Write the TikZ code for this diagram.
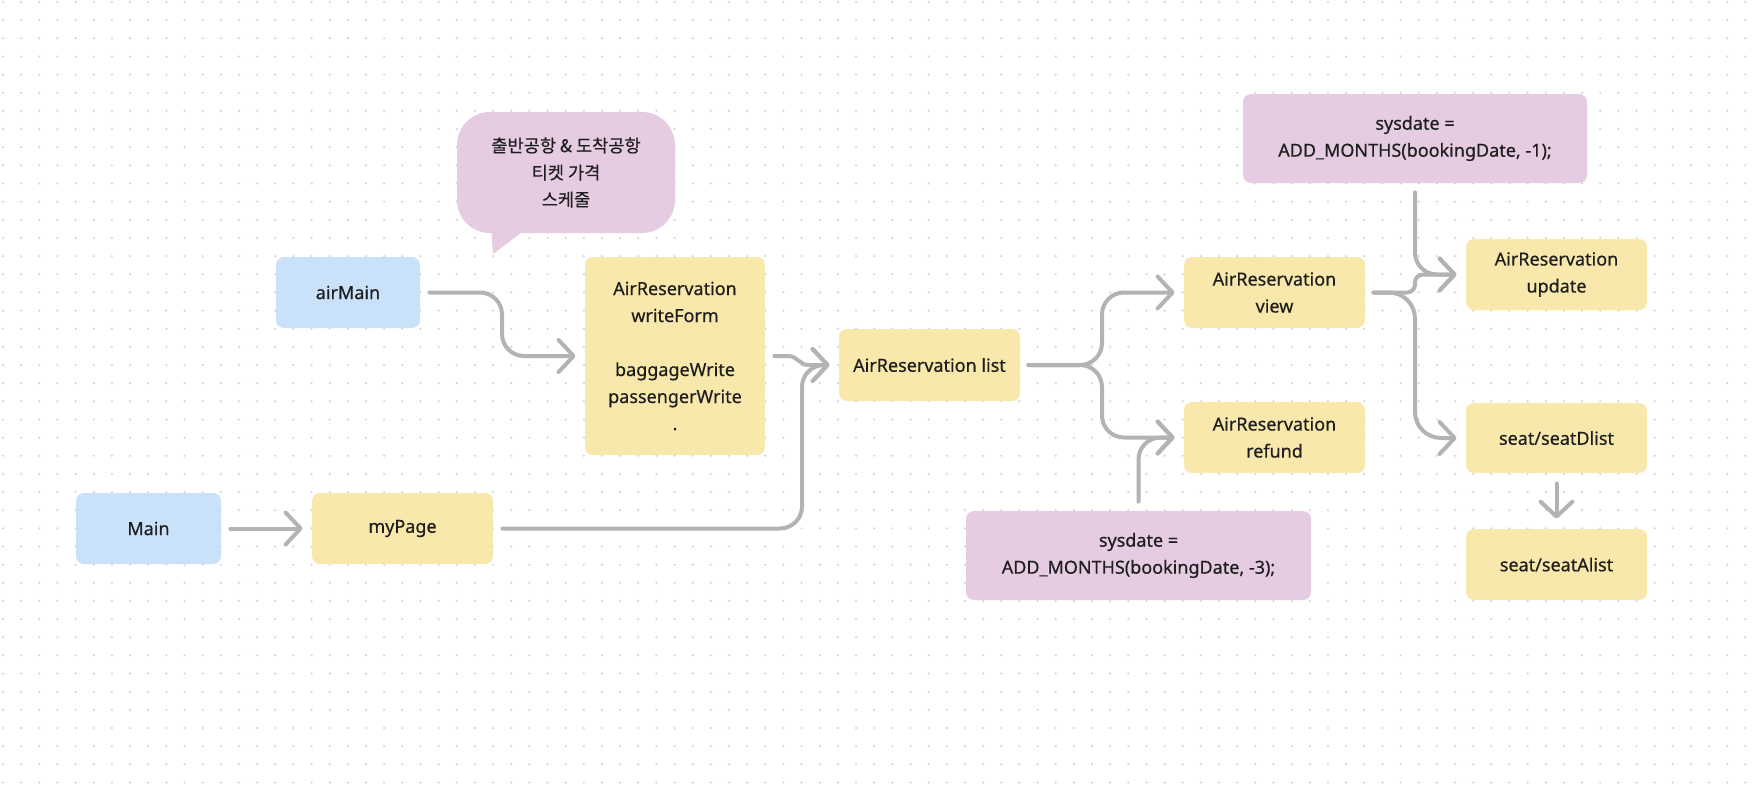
\documentclass[tikz,border=0pt]{standalone}
\usepackage{fontspec}
\setmainfont{Noto Sans}[RawFeature={embolden=0.5}]
\newfontfamily\kr{Noto Sans CJK KR}[RawFeature={embolden=0.4}]
\usetikzlibrary{arrows.meta,calc}
\definecolor{bluef}{HTML}{C9E2F9}
\definecolor{yelf}{HTML}{F9E8AB}
\definecolor{pinkf}{HTML}{E6CCE3}
\definecolor{arrc}{HTML}{B3B3B3}
\definecolor{dotc}{HTML}{D4D4D4}
\definecolor{txt}{HTML}{1E1E1E}
\begin{document}
\begin{tikzpicture}[x=0.5pt,y=-0.5pt,
  box/.style={rounded corners=4pt, inner sep=0pt, align=center, text=txt,
    font=\fontsize{9}{13.5}\selectfont},
  bluebox/.style={box, fill=bluef, minimum width=72pt, minimum height=35.5pt},
  yelbox/.style={box, fill=yelf, minimum width=90.5pt, minimum height=35.5pt},
  pinkbox/.style={box, fill=pinkf, minimum width=172pt, minimum height=44.5pt},
  arr/.style={draw=arrc, line width=2pt, line cap=round, line join=round,
    rounded corners=11pt, -{Straight Barb[length=7.5pt,width=16pt,round]}}
]
\useasboundingbox (0,0) rectangle (1752,787);
\fill[white] (0,0) rectangle (1752,787);
\foreach \j in {0,...,43}{
  \fill[dotc] \foreach \i in {0,...,96}{(3+18.15*\i,2+18.15*\j) circle[radius=0.6pt]};
}

% nodes
\node[bluebox] (airMain) at (348,292.5) {airMain};
\node[bluebox, minimum width=72.5pt] (Main) at (148.5,528.5) {Main};
\node[yelbox] (myPage) at (402.5,528.5) {myPage};
\node[yelbox, minimum width=90pt, minimum height=99pt] (writeForm) at (675,356)
  {AirReservation\\writeForm\\[13.5pt]baggageWrite\\passengerWrite\\.};
\node[yelbox, minimum height=36pt] (list) at (929.5,365) {AirReservation list};
\node[yelbox] (view) at (1274.5,292.5) {AirReservation\\view};
\node[yelbox] (refund) at (1274.5,437.5) {AirReservation\\refund};
\node[pinkbox, minimum width=172.5pt] (sys3) at (1138.5,555.5) {sysdate =\\ADD\_MONTHS(bookingDate, -3);};
\node[pinkbox] (sys1) at (1415,138.5) {sysdate =\\ADD\_MONTHS(bookingDate, -1);};
\node[yelbox] (update) at (1556.5,274.5) {AirReservation\\update};
\node[yelbox, minimum height=35pt] (seatD) at (1556.5,438) {seat/seatDlist};
\node[yelbox] (seatA) at (1556.5,564.5) {seat/seatAlist};

% speech bubble
\fill[pinkf] (491,226) -- (493,254) -- (530,226) -- cycle;
\node[box, fill=pinkf, rounded corners=16.5pt, minimum width=109pt, minimum height=60.5pt,
  font=\kr\fontsize{8.8}{13.5}\selectfont] (bubble) at (566,172.5)
  {출반공항 \& 도착공항\\티켓 가격\\스케줄};

% bend coordinates
\coordinate (k1) at (502,0);
\coordinate (k2) at (802,0);
\coordinate (k3) at (1102,0);

% connectors
\draw[arr] ([xshift=4.5pt]airMain.east) -- (airMain.east -| k1) -- (k1 |- writeForm.west) -- ([xshift=-4.5pt]writeForm.west);
\draw[arr] ([xshift=4.5pt]Main.east) -- ([xshift=-4.5pt]myPage.west);
\draw[arr] ([xshift=4.5pt]myPage.east) -- (myPage.east -| k2) -- (k2 |- list.west) -- ([xshift=-4.5pt]list.west);
\draw[arr, rounded corners=0pt] ([xshift=4.5pt]writeForm.east) -- ++(14,0) to[out=0,in=180] ++(20,9) -- ([xshift=-4.5pt]list.west);
\draw[arr] ([xshift=4pt]list.east) -- (list.east -| k3) -- (k3 |- view.west) -- ([xshift=-4.5pt]view.west);
\draw[arr] ([xshift=4pt]list.east) -- (list.east -| k3) -- (k3 |- refund.west) -- ([xshift=-4.5pt]refund.west);
\draw[arr] ([yshift=4.5pt]sys3.north) -- (sys3.north |- refund.west) -- ([xshift=-4.5pt]refund.west);
\draw[arr] ([yshift=-4.5pt]sys1.south) -- (sys1.south |- update.west) -- ([xshift=-4.5pt]update.west);
\draw[arr, rounded corners=4pt] ([xshift=4pt]view.east) -- (view.east -| sys1.south) -- (sys1.south |- update.west) -- ([xshift=-4.5pt]update.west);
\draw[arr, rounded corners=13pt] ([xshift=4pt]view.east) -- (view.east -| sys1.south) -- (sys1.south |- seatD.west) -- ([xshift=-4.5pt]seatD.west);
\draw[arr] ([yshift=-5pt]seatD.south) -- ([yshift=5pt]seatA.north);
\end{tikzpicture}
\end{document}
